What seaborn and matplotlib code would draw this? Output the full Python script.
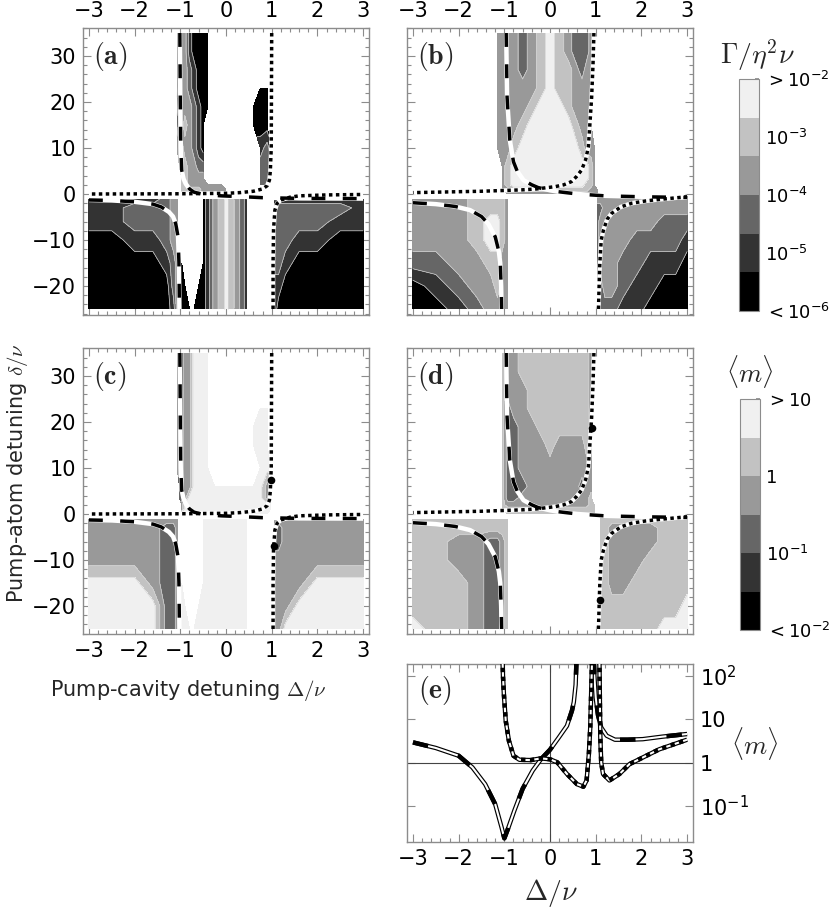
import numpy as np
import pandas as pd
import seaborn as sns
import matplotlib
matplotlib.use("Agg")
import matplotlib.pyplot as plt
from matplotlib.ticker import MultipleLocator, NullLocator

sns.set_theme(style="white")
plt.rcParams["font.family"] = ["DejaVu Sans"]
plt.rcParams["mathtext.fontset"] = "dejavusans"

band_colors = ["#000000", "#333333", "#666666", "#999999", "#c2c2c2", "#f0f0f0"]
frame_gray = "#8c8c8c"

# grid nodes: pump-cavity detuning (columns) and pump-atom detuning (rows, top -> bottom)
cols_left = [-3, -2.5, -2, -1.6, -1.3, -1.15, -1.07, -1.02, -0.97, -0.9, -0.8, -0.7, -0.6, -0.5,
             -0.4, -0.25, -0.1, 0, 0.1, 0.25, 0.35, 0.45, 0.5, 0.6, 0.75, 0.9, 0.97, 1.02,
             1.07, 1.15, 1.3, 1.6, 2, 2.5, 3]
cols_right = [-3, -2.5, -2, -1.6, -1.3, -1.15, -1.05, -0.93, -0.8, -0.6, -0.4, -0.2, 0, 0.2,
              0.4, 0.55, 0.7, 0.8, 0.9, 0.97, 1.03, 1.1, 1.2, 1.35, 1.6, 1.9, 2.2, 2.5, 2.75, 3]
rows = [35, 31, 27, 23, 19, 15, 10, 6, 3.5, 2, 1, 0.1, -0.6, -1.1, -3, -6, -10, -15, -20, -25]

# contour band index (0 = black ... 5 = lightest, '.' = no data)
bands_a = [
    "...... 0 2 3310000....... . .... . .......",
    "...... 0 2 3310000....... . .... . .......",
    "...... 0 2 3321000....... . .... . .......",
    "...... 0 3 3321000....... . .00. . .......",
    "...... 1 3 3332100....... . 000. . .......",
    "...... 2 3 343210........ . 000. . .......",
    "...... 3 4 433210........ . .121 . .......",
    "...... . 4 443322........ . .222 . .......",
    "...... . . 443333........ . .222 . .......",
    "...... . . 443333333..... . .22. . .......",
    "...... . . 44444333333333 3 3... . .......",
    "...... . . 444443333..... . .... . .......",
    "...... . . .............. . .... . .......",
    "111123 3 . .....013454321 . .... . 1111111",
    "112223 3 . .....013454321 . .... . 2222221",
    "112223 3 . .....013454321 . .... . 2222211",
    "001123 3 . .....013454321 . .... . 2221100",
    "000012 3 . 0....013454321 . .... . 2210000",
    "000002 3 . 00..0013454321 . .... . 1100000",
    "000001 3 . 00000013454321 . .... . 1000000",
]
bands_c = [
    "...... 3 2 2335555....... . .... . .......",
    "...... 3 2 2335555....... . .... . .......",
    "...... 3 2 2335555....... . .... . .......",
    "...... 3 2 2335555....... . .55. . .......",
    "...... 3 2 2335555....... . 555. . .......",
    "...... 3 2 2335555....... . 555. . .......",
    "...... 3 2 2335555....... . .555 . .......",
    "...... . 2 23355555555555 5 5532 . .......",
    "...... . 2 23555555555555 5 5532 . .......",
    "...... . . 35555555555555 5 5555 . .......",
    "...... . . 35555555555555 5 5555 . .......",
    "...... . . 55555555555555 5 555. . .......",
    "...... . . .............. . .... . .......",
    "333333 3 . .....555555555 . .... . 3333333",
    "333322 3 . .....555555555 . .... . 2233333",
    "333322 3 . .....555555555 . .... . 2233333",
    "333322 3 . .....555555555 . .... . 3333333",
    "555322 3 . 5....555555555 . .... . 3333555",
    "555522 3 . 55..5555555555 . .... . 3335555",
    "555522 3 . 55555555555555 . .... . 3355555",
]
bands_b = [
    "..... 33332345432223. ..........",
    "..... 33332345432223. ..........",
    "..... 33332345443233. ..........",
    "..... 33333345443333. ..........",
    "..... 33333455543333. ..........",
    "..... 33334555554333. ..........",
    "..... 333455555554333 ..........",
    "..... .34555555555543 ..........",
    "..... .34555555555543 ..........",
    "..... .34555555555443 ..........",
    "..... .33444444444433 3.........",
    "..... ..3333333333333 3.........",
    "..... ............... 3333333333",
    "33344443 ............ 3333333333",
    "33344443 ............ 2233333333",
    "33345543 ............ 2333333222",
    "33345543 ............ 2333322221",
    "22334433 ............ 2333221110",
    "01233433 ............ 2233211000",
    "00123333 ............ 2222110000",
]
bands_d = [
    "..... .4334444444443. ..........",
    "..... .4334444444443. ..........",
    "..... .4333444444443. ..........",
    "..... .4233444444443. ..........",
    "..... .4223344444443. ..........",
    "..... .4223334333343. ..........",
    "..... .4223333333333. ..........",
    "..... .4222333333233. ..........",
    "..... .4223333333334. ..........",
    "..... .43333333333344 ..........",
    "..... .44444444444444 ..........",
    "..... ..4444444444444 ..........",
    "..... ............... .444444444",
    "44444444 ............ .444444444",
    "44444444 ............ .443333444",
    "44332234 ............ .443333444",
    "44332234 ............ .443334444",
    "44432234 ............ .443344444",
    "44432234 ............ .444444445",
    "54432234 ............ .444444555",
]

# resonance curves (Delta, delta), left column panels (a), (c)
dash_up_left_x = [-1.01, -1.0, -0.99, -0.97, -0.93, -0.88, -0.8, -0.7, -0.5, -0.1, 0.4, 0.8, 1.6, 3.0]
dash_up_left_y = [35, 20, 10, 5.2, 3.3, 2.2, 1.1, 0.4, -0.1, -0.4, -0.6, -0.8, -0.95, -1.0]
dash_low_left_x = [-3, -2.5, -2, -1.6, -1.42, -1.25, -1.16, -1.1, -1.05, -1.03, -1.02]
dash_low_left_y = [-1.3, -1.4, -1.7, -2.2, -2.8, -3.9, -4.9, -6.5, -9.3, -15, -25]
dot_up_left_x = [1.0, 0.99, 0.97, 0.95, 0.9, 0.8, 0.6, 0.3, 0, -1, -3]
dot_up_left_y = [35, 10, 5, 3, 1.8, 1.1, 0.6, 0.3, 0.15, 0.05, 0.0]
dot_low_left_x = [1.03, 1.03, 1.04, 1.07, 1.12, 1.2, 1.4, 1.6, 2.2, 3]
dot_low_left_y = [-25, -15, -7.8, -3.5, -2.0, -1.3, -0.7, -0.4, -0.2, -0.1]

# right column panels (b), (d)
dash_up_right_x = [-0.96, -0.94, -0.88, -0.8, -0.72, -0.58, -0.4, -0.26, 0, 0.18, 0.6, 1.2, 2.0, 3]
dash_up_right_y = [35, 21, 11.7, 7, 5, 3, 2, 1.4, 0.8, 0.5, 0, -0.4, -0.6, -0.75]
dash_low_right_x = [-3, -2.5, -2.08, -1.75, -1.5, -1.35, -1.2, -1.12, -1.09, -1.07, -1.06]
dash_low_right_y = [-1.9, -2.2, -2.7, -3.5, -4.9, -6.5, -9.3, -12.5, -15, -20, -25]
dot_up_right_x = [0.96, 0.94, 0.91, 0.84, 0.78, 0.69, 0.58, 0.47, 0.3, 0.11, -0.3, -0.62, -1.5, -3]
dot_up_right_y = [35, 28, 21, 10.3, 7.5, 5.2, 3.8, 2.7, 2.0, 1.6, 1.1, 0.9, 0.6, 0.3]
dot_low_right_x = [1.06, 1.08, 1.09, 1.12, 1.17, 1.25, 1.35, 1.55, 1.79, 2.1, 2.37, 3]
dot_low_right_y = [-25, -18, -15, -10, -7.8, -5.5, -4.2, -2.8, -2, -1.5, -1.2, -0.6]

marks_c_x, marks_c_y = [0.99, 1.05], [7.4, -7.0]
marks_d_x, marks_d_y = [0.91, 1.09], [18.8, -18.6]

# panel (e): <m> along the curves
m_dash_a_x = [-3, -2.5, -2, -1.7, -1.42, -1.2, -1.06, -1.0, -0.92, -0.78, -0.6, -0.38, -0.2, 0,
              0.19, 0.37, 0.48, 0.52, 0.56, 0.58]
m_dash_a_y = [2.95, 2.19, 1.45, 0.78, 0.32, 0.11, 0.032, 0.018, 0.030, 0.079, 0.25, 0.66, 1.2, 2.0,
              3.8, 7.1, 16, 25, 63, 250]
m_dash_b_x = [0.95, 0.97, 1.0, 1.05, 1.12, 1.24, 1.42, 1.7, 2.03, 2.46, 3.0]
m_dash_b_y = [250, 100, 32, 12.6, 6.5, 4.2, 3.4, 3.4, 3.5, 4.0, 4.6]
m_dot_a_x = [-1.04, -1.03, -1.01, -0.97, -0.9, -0.8, -0.67, -0.42, -0.2, 0, 0.16, 0.37, 0.59,
             0.73, 0.8, 0.85, 0.88, 0.91, 0.92]
m_dot_a_y = [250, 100, 38, 9.3, 3.2, 1.45, 1.17, 1.15, 1.26, 1.2, 1.02, 0.55, 0.32, 0.28, 0.39,
             1.6, 6.5, 100, 250]
m_dot_b_x = [1.08, 1.09, 1.1, 1.12, 1.16, 1.3, 1.52, 1.74, 2.03, 2.39, 3.0]
m_dot_b_y = [250, 32, 4.0, 1.0, 0.55, 0.39, 0.55, 0.93, 1.32, 2.04, 3.4]


def band_grid(text_rows, ncol):
    vals = []
    for r in text_rows:
        r = r.replace(" ", "").ljust(ncol, ".")[:ncol]
        vals.append([np.nan if c == "." else int(c) + 0.5 for c in r])
    return np.ma.masked_invalid(np.array(vals[::-1]))


def draw_field(ax, cols, text_rows):
    z = band_grid(text_rows, len(cols))
    y = rows[::-1]
    cs = ax.contourf(cols, y, z, levels=np.arange(7), colors=band_colors, zorder=1)
    ax.contour(cols, y, z, levels=np.arange(1, 6), colors="#d4d4d4", linewidths=0.5, zorder=2)
    return cs


def resonance_curves(ax, dashed, dotted):
    for xs, ys in dashed:
        ax.plot(xs, ys, color="white", lw=3.2, solid_capstyle="butt", zorder=3)
        ax.plot(xs, ys, color="black", lw=2.5, ls=(0, (4, 5)), zorder=4)
    for xs, ys in dotted:
        ax.plot(xs, ys, color="white", lw=3.2, solid_capstyle="butt", zorder=3)
        ax.plot(xs, ys, color="black", lw=2.5, ls=(0, (1, 1)), zorder=4)


def frame(ax, top=False, left=False, bottom=False):
    ax.set_xlim(-3.13, 3.13)
    ax.xaxis.set_major_locator(MultipleLocator(1))
    ax.xaxis.set_minor_locator(MultipleLocator(0.2))
    ax.tick_params(which="both", direction="in", top=True, bottom=True, left=True, right=True,
                   color=frame_gray, width=0.8, labelsize=15, labelcolor="black",
                   labeltop=top, labelbottom=bottom, labelleft=left, labelright=False, pad=5)
    ax.tick_params(which="major", length=6)
    ax.tick_params(which="minor", length=3)
    for s in ax.spines.values():
        s.set_color(frame_gray)
        s.set_linewidth(1.0)
    ax.set_facecolor("white")


def contour_panel(ax, cols, text_rows, curves, label, top=False, left=False, bottom=False):
    cs = draw_field(ax, cols, text_rows)
    resonance_curves(ax, *curves)
    frame(ax, top, left, bottom)
    ax.set_ylim(-26.2, 36.2)
    ax.yaxis.set_major_locator(MultipleLocator(10))
    ax.yaxis.set_minor_locator(MultipleLocator(2))
    ax.text(0.035, 0.9, label, transform=ax.transAxes, fontsize=20, va="center",
            math_fontfamily="cm", zorder=6)
    return cs


fig = plt.figure(figsize=(8.3, 9.14), dpi=100)
fig.patch.set_facecolor("white")

curves_left = ([(dash_up_left_x, dash_up_left_y), (dash_low_left_x, dash_low_left_y)],
               [(dot_up_left_x, dot_up_left_y), (dot_low_left_x, dot_low_left_y)])
curves_right = ([(dash_up_right_x, dash_up_right_y), (dash_low_right_x, dash_low_right_y)],
                [(dot_up_right_x, dot_up_right_y), (dot_low_right_x, dot_low_right_y)])

ax_a = fig.add_axes([0.100, 0.6559, 0.3446, 0.3140])
ax_b = fig.add_axes([0.4904, 0.6559, 0.3446, 0.3140])
ax_c = fig.add_axes([0.100, 0.3058, 0.3446, 0.3140])
ax_d = fig.add_axes([0.4904, 0.3058, 0.3446, 0.3140])
ax_e = fig.add_axes([0.4904, 0.0788, 0.3446, 0.1947])

cs_a = contour_panel(ax_a, cols_left, bands_a, curves_left, r"$\mathbf{(a)}$", top=True, left=True)
contour_panel(ax_b, cols_right, bands_b, curves_right, r"$\mathbf{(b)}$", top=True)
cs_c = contour_panel(ax_c, cols_left, bands_c, curves_left, r"$\mathbf{(c)}$", left=True, bottom=True)
contour_panel(ax_d, cols_right, bands_d, curves_right, r"$\mathbf{(d)}$")
for ax, mx, my in ((ax_c, marks_c_x, marks_c_y), (ax_d, marks_d_x, marks_d_y)):
    sns.scatterplot(x=mx, y=my, ax=ax, color="black", s=30, linewidth=0, zorder=5)
    ax.set_xlim(-3.13, 3.13)
    ax.set_ylim(-26.2, 36.2)

# colorbars
cax1 = fig.add_axes([0.8904, 0.6597, 0.0241, 0.2538])
cb1 = fig.colorbar(cs_a, cax=cax1, ticks=[0, 1.5, 3, 4.5, 6])
cb1.ax.set_yticklabels([r"$<10^{-6}$", r"$10^{-5}$", r"$10^{-4}$", r"$10^{-3}$", r"$>10^{-2}$"])
cax2 = fig.add_axes([0.8916, 0.3107, 0.0241, 0.2527])
cb2 = fig.colorbar(cs_c, cax=cax2, ticks=[0, 2, 4, 6])
cb2.ax.set_yticklabels([r"$<10^{-2}$", r"$10^{-1}$", "1", r"$>10$"])
for cb in (cb1, cb2):
    cb.outline.set_edgecolor(frame_gray)
    cb.outline.set_linewidth(0.8)
    cb.ax.tick_params(direction="in", length=3, color=frame_gray, labelsize=13,
                      labelcolor="black", pad=4)
    cb.ax.yaxis.set_minor_locator(NullLocator())

fig.text(0.913, 0.94, r"$\Gamma/\eta^2\nu$", fontsize=20, ha="center", va="center",
         math_fontfamily="cm")
fig.text(0.9036, 0.593, r"$\langle m\rangle$", fontsize=19, ha="center", va="center",
         math_fontfamily="cm")

# panel (e)
ax_e.set_yscale("log")


def hollow_line(ax, xs, ms, pattern):
    ax.plot(xs, ms, color="black", lw=3.2, solid_capstyle="butt", zorder=3)
    ax.plot(xs, ms, color="white", lw=1.5, solid_capstyle="butt", zorder=3)
    ax.plot(xs, ms, color="black", lw=3.2, ls=pattern, zorder=3)


ax_e.axhline(1, color="#444444", lw=0.8, zorder=1)
ax_e.axvline(0, color="#444444", lw=0.8, zorder=1)
hollow_line(ax_e, m_dash_a_x, m_dash_a_y, (0, (3.5, 7)))
hollow_line(ax_e, m_dash_b_x, m_dash_b_y, (0, (3.5, 7)))
hollow_line(ax_e, m_dot_a_x, m_dot_a_y, (0, (1, 1)))
hollow_line(ax_e, m_dot_b_x, m_dot_b_y, (0, (1, 1)))
frame(ax_e, bottom=True)
ax_e.set_ylim(0.0148, 190)
ax_e.set_yticks([0.1, 1, 10, 100])
ax_e.set_yticklabels([r"$10^{-1}$", "1", "10", r"$10^{2}$"])
ax_e.yaxis.set_minor_locator(NullLocator())
ax_e.tick_params(labelleft=False, labelright=True)
ax_e.text(0.038, 0.854, r"$\mathbf{(e)}$", transform=ax_e.transAxes, fontsize=20,
          va="center", math_fontfamily="cm", zorder=6)

fig.text(0.9096, 0.187, r"$\langle m\rangle$", fontsize=19, ha="center", va="center",
         math_fontfamily="cm")
fig.text(0.664, 0.023, r"$\Delta/\nu$", fontsize=20, ha="center", va="center",
         math_fontfamily="cm")
fig.text(0.2265, 0.245, r"Pump-cavity detuning $\Delta/\nu$", fontsize=15, ha="center",
         va="center", math_fontfamily="cm")
fig.text(0.0205, 0.482, r"Pump-atom detuning $\delta/\nu$", fontsize=15, ha="center",
         va="center", rotation=90, math_fontfamily="cm")

fig.savefig("out.png", dpi=100, facecolor="white")
